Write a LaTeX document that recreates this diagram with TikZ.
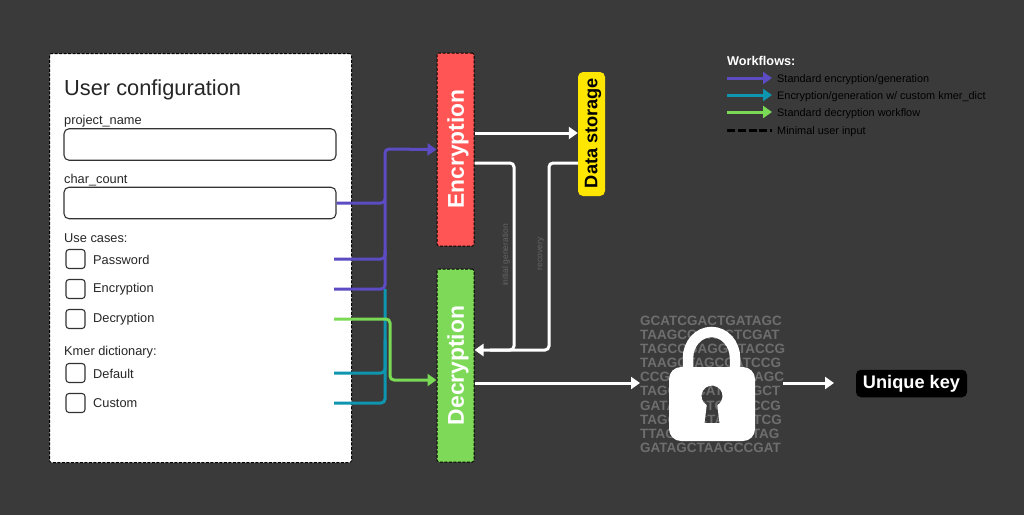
\documentclass[tikz,border=0pt]{standalone}
\usepackage{fontspec}
\setmainfont{Liberation Sans}
\usetikzlibrary{arrows.meta,calc}
\definecolor{bgc}{HTML}{3A3A3A}
\definecolor{purp}{HTML}{5B4CC4}
\definecolor{teal2}{HTML}{0E96B0}
\definecolor{grn}{HTML}{7AD955}
\definecolor{redb}{HTML}{FF5555}
\definecolor{grnb}{HTML}{7DD957}
\definecolor{yel}{HTML}{FFE600}
\definecolor{dna}{HTML}{6E6E6E}
\newcommand{\fs}[1]{\fontsize{#1}{#1}\selectfont}
\tikzset{
  x=1pt,y=-1pt,
  panelbox/.style={draw=black,fill=white,line width=1pt,dash pattern=on 3pt off 1.5pt,rounded corners=1.5pt,anchor=north west,inner sep=0pt},
  stagebox/.style={draw=black,dash pattern=on 3pt off 1.5pt,line width=1pt,rounded corners=1.5pt,minimum width=37pt,minimum height=193pt,inner sep=0pt},
  stagetext/.style={rotate=90,font=\bfseries\fs{22.8},text=white},
  fieldbox/.style={draw=black!80,fill=white,line width=1.1pt,rounded corners=5pt,minimum width=272pt,minimum height=31.5pt,inner sep=0pt},
  checkbox/.style={draw=black!80,fill=white,line width=1.1pt,rounded corners=3pt,minimum size=19pt,inner sep=0pt},
  lab/.style={anchor=west,inner sep=0pt,font=\fs{12.8},text=black!85},
  leglab/.style={anchor=west,inner sep=0pt,font=\fs{10.9},text=black},
  flow/.style={line width=3pt,rounded corners=4pt},
  tip/.style={-{Triangle[length=9pt,width=12pt]}},
  wflow/.style={line width=3pt,white,rounded corners=4pt},
  faint/.style={rotate=90,inner sep=0pt,font=\fs{8.5},text=white!22!bgc},
  dnatext/.style={anchor=west,inner sep=0pt,font=\bfseries\fs{13.5},text=dna},
}
\begin{document}
\begin{tikzpicture}
\useasboundingbox (0,0) rectangle (1024,515);
\fill[bgc] (0,0) rectangle (1024,515);

% panel
\node[panelbox,minimum width=302pt,minimum height=409pt] (panel) at (49,53) {};
\node[lab,font=\fs{21.8}] (title) at (64,89.5) {User configuration};
\node[lab] (lpn) at (64,121.5) {project\_name};
\node[fieldbox] (fpn) at (200,144.5) {};
\node[lab] (lcc) at (64,180) {char\_count};
\node[fieldbox] (fcc) at (200,203) {};
\node[lab] (luc) at (64,238) {Use cases:};
\node[checkbox] (c1) at (75.5,259) {};
\node[lab] (t1) at (93,259.5) {Password};
\node[checkbox] (c2) at (75.5,289) {};
\node[lab] (t2) at (93,289.5) {Encryption};
\node[checkbox] (c3) at (75.5,319) {};
\node[lab] (t3) at (93,319.5) {Decryption};
\node[lab] (lkd) at (64,352) {Kmer dictionary:};
\node[checkbox] (c4) at (75.5,373) {};
\node[lab] (t4) at (93,373.5) {Default};
\node[checkbox] (c5) at (75.5,403) {};
\node[lab] (t5) at (93,403.5) {Custom};

% stages
\node[stagebox,fill=redb] (enc) at (455.5,149.5) {};
\node[stagetext] at (458,149) {Encryption};
\node[stagebox,fill=grnb] (dec) at (455.5,365.5) {};
\node[stagetext] at (458,365.5) {Decryption};
\node[draw=none,fill=yel,rounded corners=5pt,minimum width=27pt,minimum height=124pt,inner sep=0pt] (store) at (591.5,134) {};
\node[rotate=90,font=\bfseries\fs{18.2},text=black] at (593,133) {Data storage};

% line start points
\coordinate (s1) at (334,259);
\coordinate (s2) at (334,289);
\coordinate (s3) at (334,319);
\coordinate (s4) at (334,373);
\coordinate (s5) at (334,403);

% teal
\draw[flow,teal2] (s5) -- (385,403) -- (385,289);
\draw[flow,teal2] (s4) -- (385,373) -- (385,340);
% purple
\draw[flow,purp,tip] (fcc.east) -- (385,203) -- (385,149) -- (enc.west);
\draw[flow,purp] (s1) -- (385,259) -- (385,200);
\draw[flow,purp] (s2) -- (385,289) -- (385,250);
% green
\draw[flow,grn,tip] (s3) -- (390,319) -- (390,380) -- (dec.west |- 0,380);

% white flows
\draw[wflow,tip] (enc.east |- 0,133) -- (store.west |- 0,133);
\draw[wflow] (enc.east |- 0,163) -- (514,163) -- (514,350) -- (490,350);
\draw[wflow,tip] (store.west |- 0,163) -- (549,163) -- (549,350) -- (dec.east |- 0,350);
\node[faint] (n1) at (506,255) {initial generation};
\node[faint] (n2) at (541,254) {recovery};

% dna text
\node[dnatext] at (640,321) {GCATCGACTGATAGC};
\node[dnatext] at (640,335) {TAAGCCGATCTCGAT};
\node[dnatext] at (640,349) {TAGCCGAGGCTACCG};
\node[dnatext] at (640,363.1) {TAAGCTAGCCATCCG};
\node[dnatext] at (640,377.2) {CCGATCGATAGGAGC};
\node[dnatext] at (640,391.3) {TAGCTGCATAAGGCT};
\node[dnatext] at (640,405.4) {GATAGCCTGATACCG};
\node[dnatext] at (640,419.5) {TAGCAGCTAGCATCG};
\node[dnatext] at (640,433.6) {TTACGATCGGCATAG};
\node[dnatext] at (640,447.7) {GATAGCTAAGCCGAT};

% lock
\coordinate (lockin) at (640,383);
\coordinate (lockout) at (783,383);
\draw[white,line width=10.5pt] (688,368) -- (688,358) arc[start angle=180,end angle=0,x radius=23.5,y radius=-26] -- (735,368);
\fill[white,even odd rule]
  (669,379) arc[start angle=180,end angle=90,radius=12,y radius=-12] -- (743,367) arc[start angle=90,end angle=0,radius=12,y radius=-12] -- (755,429) arc[start angle=0,end angle=-90,radius=12,y radius=-12] -- (681,441) arc[start angle=-90,end angle=-180,radius=12,y radius=-12] -- cycle
  (706.75,405.1) arc[start angle=240,end angle=-60,radius=10.5,y radius=-10.5] -- (719.5,423) -- (704.5,423) -- cycle;

% key
\node[fill=black,rounded corners=5pt,minimum width=111pt,minimum height=27.5pt,inner sep=0pt,font=\bfseries\fs{18.2},text=white] (key) at (911.5,383.5) {Unique key};
\draw[wflow,tip] (dec.east |- 0,383) -- (lockin);
\draw[wflow,tip] (lockout) -- (834,383);

% legend
\node[anchor=west,inner sep=0pt,font=\bfseries\fs{12.7},text=white] (lgt) at (727,61) {Workflows:};
\coordinate (la1) at (727,78); \coordinate (lb1) at (772,78);
\coordinate (la2) at (727,95); \coordinate (lb2) at (772,95);
\coordinate (la3) at (727,112); \coordinate (lb3) at (772,112);
\coordinate (la4) at (727,130); \coordinate (lb4) at (772,130);
\draw[flow,purp,tip] (la1) -- (lb1);
\draw[flow,teal2,tip] (la2) -- (lb2);
\draw[flow,grn,tip] (la3) -- (lb3);
\draw[line width=3pt,black,dash pattern=on 8pt off 2.8pt] (la4) -- (lb4);
\node[leglab] at (777,79.5) {Standard encryption/generation};
\node[leglab] at (777,96.5) {Encryption/generation w/ custom kmer\_dict};
\node[leglab] at (777,113.5) {Standard decryption workflow};
\node[leglab] at (777,131.5) {Minimal user input};
\end{tikzpicture}
\end{document}
